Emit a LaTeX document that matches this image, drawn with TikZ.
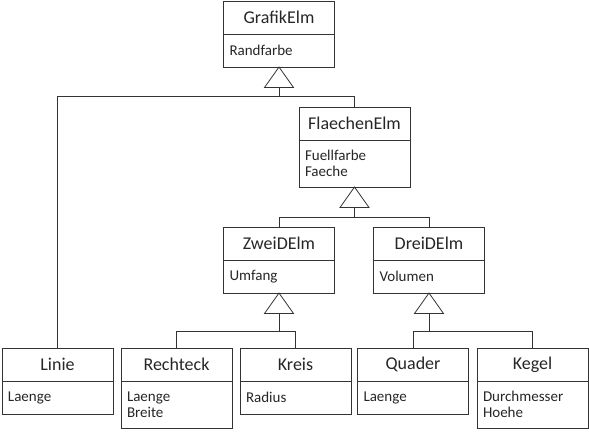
\documentclass[tikz,border=0pt]{standalone}
\usepackage{fontspec}
\setmainfont{Carlito}
\usetikzlibrary{positioning}
\tikzset{
  classname/.style={draw=black!80, outer sep=0pt, inner sep=0pt, minimum width=111pt, minimum height=33pt, text=black!85, font=\fontsize{18}{21}\selectfont},
  classattr/.style={draw=black!80, outer sep=0pt, inner xsep=6pt, inner ysep=0pt, minimum width=111pt, text width=99pt, align=left, minimum height=#1, text=black!85, font=\fontsize{15}{16.5}\selectfont},
  classattr/.default=33pt,
}
\begin{document}
\begin{tikzpicture}[x=1pt, y=1pt, line width=0.8pt]
\useasboundingbox (0,0) rectangle (589,-432);
% Oberklassen
\node[classname] (grafik) at (279,-17.5) {GrafikElm};
\node[classattr, below=0pt of grafik] (grafikA) {Randfarbe};
\node[classname] (flaechen) at (354.5,-123.5) {FlaechenElm};
\node[classattr=47pt, below=0pt of flaechen] (flaechenA) {Fuellfarbe\\Faeche};
\node[classname] (zweid) at (279,-243.5) {ZweiDElm};
\node[classattr, below=0pt of zweid] (zweidA) {Umfang};
\node[classname] (dreid) at (429,-243.5) {DreiDElm};
\node[classattr, below=0pt of dreid] (dreidA) {Volumen};
% Unterklassen
\foreach \nm/\x/\title/\attr/\h in {linie/57.5/Linie/Laenge/33pt, rechteck/176.5/Rechteck/{Laenge\\Breite}/47pt, kreis/295.5/Kreis/Radius/33pt, quader/413/Quader/Laenge/33pt, kegel/532.5/Kegel/{Durchmesser\\Hoehe}/47pt} {
  \node[classname] (\nm) at (\x,-364.5) {\title};
  \node[classattr=\h, below=0pt of \nm] (\nm A) {\attr};
}
% Vererbung
\foreach \p/\d/\kids in {grafikA/9/{linie,flaechen}, flaechenA/10/{zweid,dreid}, zweidA/18/{rechteck,kreis}, dreidA/18/{quader,kegel}} {
  \draw[black!80] (\p.south) -- ++(-14.5,-20.5) -- ++(29,0) -- cycle;
  \draw[black!80] (\p.south) ++(0,-20.5) -- ++(0,-\d) coordinate (join);
  \foreach \k in \kids {
    \draw[black!80] (join) -| (\k.north);
  }
}
\end{tikzpicture}
\end{document}
